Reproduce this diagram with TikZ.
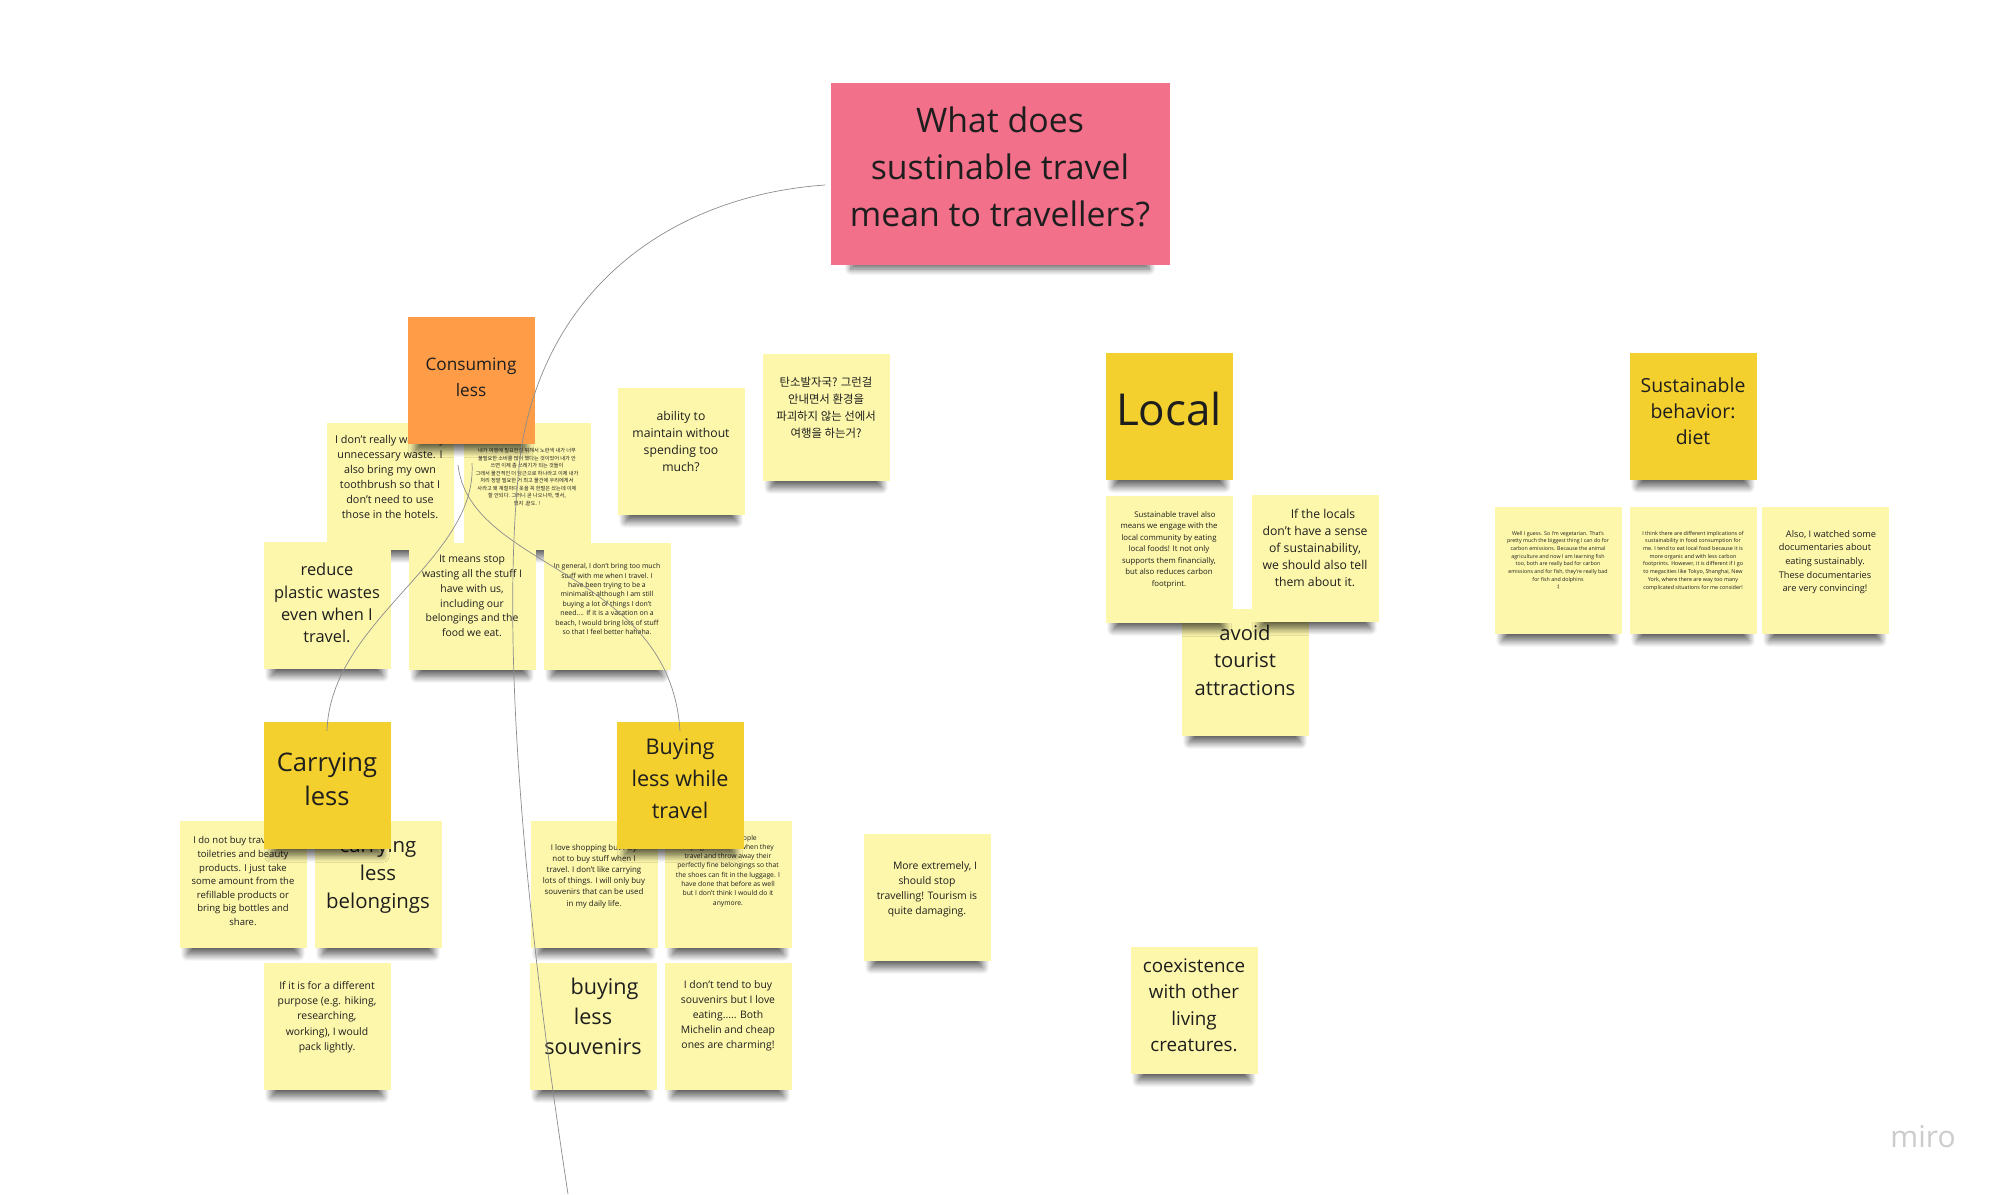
\documentclass[tikz,border=0pt]{standalone}
\usepackage{fontspec}
\setmainfont{Open Sans}
\newfontfamily\koreanfont{Noto Sans CJK KR}
\usetikzlibrary{shadows.blur}

\definecolor{notepale}{HTML}{FDF7AB}
\definecolor{notegold}{HTML}{F4D02E}
\definecolor{noteorange}{HTML}{FE9C47}
\definecolor{notepink}{HTML}{F3708A}
\definecolor{inkdark}{HTML}{1E1E1E}

\tikzset{
    sticky/.style={minimum width=63.5pt, minimum height=63.5pt, inner sep=0pt, align=center,
        text=inkdark, fill=notepale,
        blur shadow={shadow xshift=0pt, shadow yshift=-8.5pt, shadow scale=.88,
            shadow blur radius=3.6pt, shadow blur steps=12, shadow opacity=60}},
    fs/.style 2 args={font=\fontsize{#1}{#2}\selectfont},
    korean/.style 2 args={font=\koreanfont\fontsize{#1}{#2}\selectfont},
    link/.style={draw=black!45, line width=0.35pt},
}

\begin{document}
\begin{tikzpicture}[x=0.5pt, y=-0.5pt]
    \useasboundingbox (0,0) rectangle (2000,1194);

    % Title
    \node[sticky, fill=notepink, minimum width=169.5pt, minimum height=91pt,
        fs={16.9}{23.4}, text depth=7.6pt] (title) at (1000,174)
        {What does\\sustinable travel\\mean to travellers?};

    % Consuming less
    \node[sticky, fs={5.4}{7.5}, text depth=9pt] (wastenote) at (390,486)
        {I don't really want any\\unnecessary waste. I\\also bring my own\\toothbrush so that I\\don't need to use\\those in the hotels.};
    \node[sticky, korean={2.6}{3.75}, text depth=9pt] (koreannote) at (527,486)
        {내가 여행에 필요한걸 위해서 노란색 내가 너무\\불필요한 소비를 많이 했다는 것이었어 내가 안\\쓰면 이제 좀 쓰레기가 되는 것들이\\그래서 물건적인 더 당근으로 하나라고 이제 내가\\처리 정말 필요한 거 최고 물건에 우리에게서\\사라고 왜 계절마다 옷을 꼭 한벌은 샀는데 이제\\할 안되다. 그러니 곧 나오니까, 옛서,\\했지 .끝도. !};
    \node[sticky, fs={8.2}{11.2}, text depth=2pt] (plasticnote) at (327,605)
        {reduce\\plastic wastes\\even when I\\travel.};
    \node[sticky, fs={5.2}{7.4}, text depth=10pt] (stopnote) at (472,606)
        {It means stop\\wasting all the stuff I\\have with us,\\including our\\belongings and the\\food we eat.};
    \node[sticky, fs={3.45}{4.7}, text depth=7pt] (bringnote) at (607,606)
        {In general, I don't bring too much\\stuff with me when I travel. I\\have been trying to be a\\minimalist although I am still\\buying a lot of things I don't\\need.... If it is a vacation on a\\beach, I would bring lots of stuff\\so that I feel better hahaha.};
    \node[sticky, fill=noteorange, fs={8.6}{12.8}, text depth=3pt] (consuming) at (471,380)
        {Consuming\\less};
    \node[sticky, fs={6.1}{8.5}, text depth=10pt] (abilitynote) at (681,451)
        {ability to\\maintain without\\spending too\\much?};
    \node[sticky, korean={5.7}{8.5}, text depth=10pt] (carbonnote) at (826,417)
        {탄소발자국? 그런걸\\안내면서 환경을\\파괴하지 않는 선에서\\여행을 하는거?};

    % Carrying less
    \node[sticky, fs={4.75}{6.8}, text depth=3pt] (toiletnote) at (243,884)
        {I do not buy travel size\\toiletries and beauty\\products. I just take\\some amount from the\\refillable products or\\bring big bottles and\\share.};
    \node[sticky, fs={10.2}{14}, text depth=11pt] (belongnote) at (378,884)
        {carrying\\less\\belongings};
    \node[sticky, fs={5.2}{7.6}, text depth=10pt] (packnote) at (327,1026)
        {If it is for a different\\purpose (e.g. hiking,\\researching,\\working), I would\\pack lightly.};
    \node[sticky, fill=notegold, fs={12.8}{17}, text depth=6pt] (carrying) at (327,785)
        {Carrying\\less};

    % Buying less
    \node[sticky, fs={3.95}{5.6}, text depth=9pt] (shopnote) at (594,884)
        {I love shopping but I try\\not to buy stuff when I\\travel. I don't like carrying\\lots of things. I will only buy\\souvenirs that can be used\\in my daily life.};
    \node[sticky, fs={3.4}{4.65}, text depth=14pt] (shoenote) at (728,884)
        {I see many people\\buying new shoes when they\\travel and throw away their\\perfectly fine belongings so that\\the shoes can fit in the luggage. I\\have done that before as well\\but I don't think I would do it\\anymore.};
    \node[sticky, fs={10.8}{15}, text depth=10pt] (souvenirnote) at (593,1026)
        {\hspace*{11.5pt}buying\\less\\souvenirs};
    \node[sticky, fs={5.2}{7.5}, text depth=11pt] (eatnote) at (728,1026)
        {I don't tend to buy\\souvenirs but I love\\eating..... Both\\Michelin and cheap\\ones are charming!};
    \node[sticky, fill=notegold, fs={10.8}{16}, text depth=6pt] (buying) at (680,785)
        {Buying\\less while\\travel};

    % Single notes
    \node[sticky, fs={5.2}{7.4}, text depth=9pt] (damagenote) at (927,897)
        {\hspace*{8pt}More extremely, I\\should stop\\travelling! Tourism is\\quite damaging.};
    \node[sticky, fs={9.4}{13.2}, text depth=5pt] (coexistnote) at (1194,1010)
        {coexistence\\with other\\living\\creatures.};

    % Local
    \node[sticky, fs={10.1}{13.7}, text depth=12pt] (avoidnote) at (1245,672)
        {avoid\\tourist\\attractions};
    \node[sticky, fs={3.9}{5.75}, text depth=10pt] (localfood) at (1169,559)
        {\hspace*{6pt}Sustainable travel also\\means we engage with the\\local community by eating\\local foods! It not only\\supports them financially,\\but also reduces carbon\\footprint.};
    \node[sticky, fs={6.1}{8.5}, text depth=10pt] (localsnote) at (1315,558)
        {\hspace*{8pt}If the locals\\don't have a sense\\of sustainability,\\we should also tell\\them about it.};
    \node[sticky, fill=notegold, fs={22}{26}, text depth=7pt] (localhead) at (1169,416)
        {Local};

    % Sustainable behavior: diet
    \node[sticky, fs={2.65}{3.85}, text depth=10pt] (vegnote) at (1558,570)
        {Well I guess. So I'm vegetarian. That's\\pretty much the biggest thing I can do for\\carbon emissions. Because the animal\\agriculture and now I am learning fish\\too, both are really bad for carbon\\emissions and for fish, they're really bad\\for fish and dolphins\\:)};
    \node[sticky, fs={2.7}{3.85}, text depth=10pt] (foodnote) at (1693,570)
        {I think there are different implications of\\sustainability in food consumption for\\me. I tend to eat local food because it is\\more organic and with less carbon\\footprints. However, it is different if I go\\to megacities like Tokyo, Shanghai, New\\York, where there are way too many\\complicated situations for me consider!};
    \node[sticky, fs={4.6}{6.8}, text depth=9pt] (filmnote) at (1825,570)
        {\hspace*{6pt}Also, I watched some\\documentaries about\\eating sustainably.\\These documentaries\\are very convincing!};
    \node[sticky, fill=notegold, fs={9.7}{13}, text depth=5pt] (diet) at (1693,416)
        {Sustainable\\behavior:\\diet};

    \node[text=black!20, fs={15}{15}] (logo) at (1923,1137) {miro};

    % Connectors
    \coordinate (offpage) at (568,1194);
    \coordinate (carryingstart) at (472,463);
    \coordinate (buyingstart) at (458,465);
    \draw[link] ([shift={(-5,11)}]title.west) .. controls (680,195) and (548,280) .. (521,450)
        .. controls (500,620) and (520,880) .. (offpage);
    \draw[link] (carryingstart) .. controls (478,560) and (330,620) .. ([yshift=-5pt]carrying.north);
    \draw[link] (buyingstart) .. controls (470,570) and (670,570) .. ([yshift=-5pt]buying.north);
\end{tikzpicture}
\end{document}
